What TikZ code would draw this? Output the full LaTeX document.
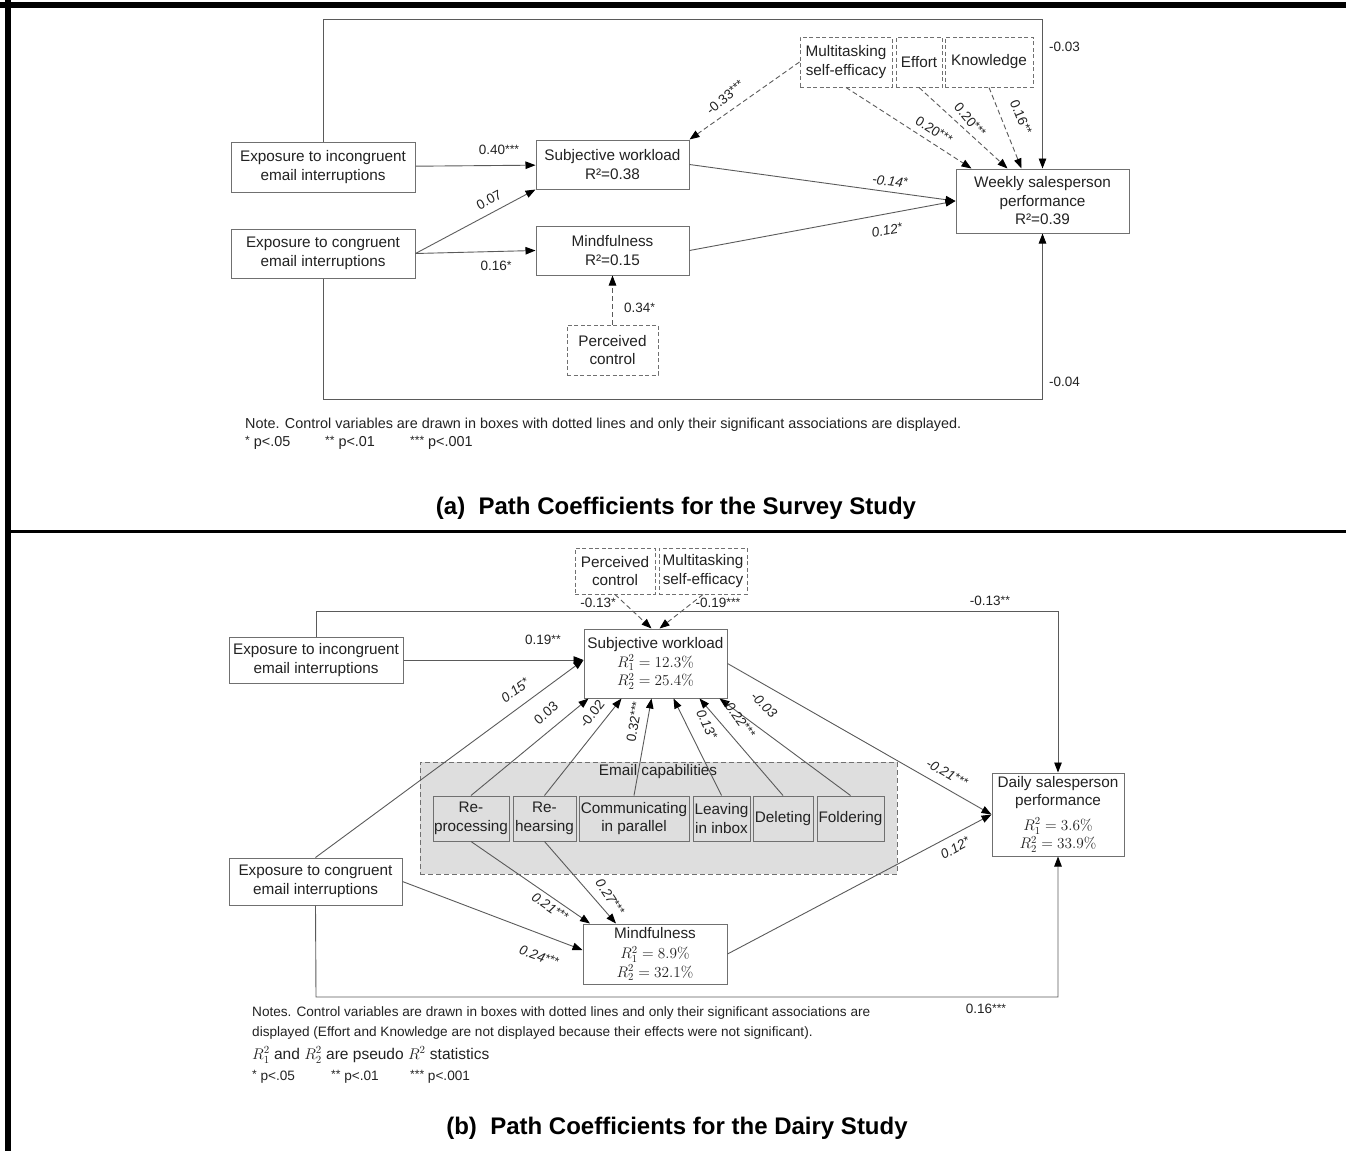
\documentclass[tikz,border=0pt]{standalone}
\usepackage{fix-cm}
\usepackage[no-math]{fontspec}
\setmainfont{Liberation Sans}
\usepackage{amsmath}
\usepackage{xcolor}
\usetikzlibrary{positioning,arrows.meta}

\definecolor{lineg}{HTML}{5A5A5A}
\definecolor{boxg}{HTML}{707070}
\definecolor{txt}{HTML}{222222}
\definecolor{capfill}{HTML}{DEDEDE}

\newcommand{\boxfont}{\fontsize{15.3}{18.5}\selectfont}
\newcommand{\coeffont}{\fontsize{13.5}{16}\selectfont}
\newcommand{\notefont}{\fontsize{14.4}{17}\selectfont}
\newcommand{\titlefont}{\fontsize{24}{28}\selectfont\bfseries}
\newcommand{\sig}[1]{\raisebox{1.8pt}{\fontsize{12}{12}\selectfont#1}}

\begin{document}
\begin{tikzpicture}[
            x=1pt, y=-1pt,
            var/.style={draw=boxg, line width=1pt, fill=white, text=txt, align=center, font=\boxfont, inner sep=1pt},
            ctrl/.style={var, dash pattern=on 4pt off 2.5pt},
            capbox/.style={var, fill=capfill, minimum height=45pt},
            link/.style={draw=lineg, line width=0.9pt, -{Triangle[length=10pt,width=7.5pt,color=black]}},
            dlink/.style={link, dash pattern=on 5pt off 3pt},
            coef/.style={text=txt, font=\coeffont, inner sep=1pt},
            coefit/.style={coef, font=\coeffont\itshape},
            note/.style={anchor=west, text=txt, font=\notefont, inner sep=0pt},
            bnote/.style={note, font=\fontsize{13.6}{16}\selectfont}
        ]
            \useasboundingbox (0,0) rectangle (1346,1151);
            % Frame
            \draw[line width=6pt] (0,5) -- (1346,5);
            \draw[line width=6pt] (8,0) -- (8,1151);
            \draw[line width=3.5pt] (8,531.5) -- (1346,531.5);

            % ---------------- (a) survey study ----------------
            % Variables
            \node[var, minimum width=184pt, minimum height=50pt] (inc1) at (323,167) {Exposure to incongruent\\email interruptions};
            \node[var, minimum width=184pt, minimum height=49pt] (con1) at (323,253.5) {Exposure to congruent\\email interruptions};
            \node[var, minimum width=153pt, minimum height=49pt] (sw1) at (612.5,164.5) {Subjective workload\\R²=0.38};
            \node[var, minimum width=153pt, minimum height=49pt] (mind1) at (612.5,250.5) {Mindfulness\\R²=0.15};
            \node[var, minimum width=173pt, minimum height=64pt] (perf1) at (1042.5,201) {Weekly salesperson\\performance\\R²=0.39};
            % Controls
            \node[ctrl, minimum width=92pt, minimum height=50pt] (mts1) at (846,62) {Multitasking\\self-efficacy};
            \node[ctrl, minimum width=46pt, minimum height=50pt] (eff1) at (919,62) {Effort};
            \node[ctrl, minimum width=88pt, minimum height=50pt] (know1) at (989,62) {Knowledge};
            \node[ctrl, minimum width=91pt, minimum height=50pt] (pc1) at (612.5,350) {Perceived\\control};
            % Paths
            \coordinate (fbtop1) at (323,19);
            \coordinate (fbbot1) at (323,399);
            \draw[link] (inc1.north) -- (fbtop1) -| (perf1.north);
            \draw[link] (con1.south) -- (fbbot1) -| (perf1.south);
            \draw[link] (inc1) -- (sw1);
            \draw[link] (con1.east) -- (sw1.south west);
            \draw[link] (con1.east) -- (mind1.west);
            \draw[link] (sw1.east) -- (perf1.west);
            \draw[link] (mind1.east) -- (perf1.west);
            \draw[dlink] (mts1.west) -- (sw1.north east);
            \draw[dlink] (mts1.south) -- ([xshift=-71pt]perf1.north);
            \draw[dlink] (eff1.south) -- ([xshift=-35pt]perf1.north);
            \draw[dlink] (know1.south) -- ([xshift=-21pt]perf1.north);
            \draw[dlink] (pc1) -- (mind1);
            % Coefficients
            \node[coef] (c40) at (499,150) {0.40\sig{***}};
            \node[coef, rotate=28] (c07) at (489,200) {0.07};
            \node[coef] (c16) at (496,266) {0.16\sig{*}};
            \node[coef, rotate=40] (c33) at (725,97) {-0.33\sig{***}};
            \node[coef, rotate=-33] (c20a) at (934,130) {0.20\sig{***}};
            \node[coef, rotate=-50] (c20b) at (970,120) {0.20\sig{***}};
            \node[coef, rotate=-68] (c16b) at (1021,117) {0.16\sig{**}};
            \node[coefit, rotate=-8] (c14) at (890,181) {-0.14\sig{*}};
            \node[coefit, rotate=10] (c12) at (887,230) {0.12\sig{*}};
            \node[coef, anchor=west] (c34) at (623,308) {0.34\sig{*}};
            \node[coef, anchor=west] (c03) at (1048,47) {-0.03};
            \node[coef, anchor=west] (c04) at (1048,382) {-0.04};
            % Notes
            \node[note] (note1) at (245,425) {Note. Control variables are drawn in boxes with dotted lines and only their significant associations are displayed.};
            \node[note] (pa1) at (245,443) {\sig{*} p<.05};
            \node[note] (pa2) at (325,443) {\sig{**} p<.01};
            \node[note] (pa3) at (410,443) {\sig{***} p<.001};
            \node[font=\titlefont] (title1) at (676,508) {(a)\ \ Path Coefficients for the Survey Study};

            % ---------------- (b) diary study ----------------
            % Group
            \node[draw=boxg, fill=capfill, line width=1pt, dash pattern=on 5pt off 3pt, minimum width=477pt, minimum height=112pt] (caps) at (658.5,818) {};
            \node[text=txt, font=\boxfont, inner sep=0pt] (capsl) at (658,772) {Email capabilities};
            % Variables
            \node[ctrl, minimum width=80pt, minimum height=46pt] (pc2) at (615,571) {Perceived\\control};
            \node[ctrl, minimum width=88pt, minimum height=46pt] (mts2) at (703,571) {Multitasking\\self-efficacy};
            \node[var, minimum width=174pt, minimum height=46pt] (inc2) at (316,660) {Exposure to incongruent\\email interruptions};
            \node[var, minimum width=173pt, minimum height=47pt] (con2) at (315.5,881.5) {Exposure to congruent\\email interruptions};
            \node[var, minimum width=143pt, minimum height=69pt] (sw2) at (655.5,663.5) {Subjective workload\\$R_1^2 = 12.3\%$\\$R_2^2 = 25.4\%$};
            \node[var, minimum width=144pt, minimum height=60pt] (mind2) at (655,954) {Mindfulness\\[2pt]$R_1^2 = 8.9\%$\\$R_2^2 = 32.1\%$};
            \node[var, minimum width=132pt, minimum height=83pt] (perf2) at (1058,814.5) {Daily salesperson\\performance\\[6pt]$R_1^2 = 3.6\%$\\$R_2^2 = 33.9\%$};
            \node[capbox, minimum width=76pt] (rep) at (471,818.5) {Re-\\processing};
            \node[capbox, minimum width=63pt] (reh) at (544.5,818.5) {Re-\\hearsing};
            \node[capbox, minimum width=110pt] (com) at (634,818.5) {Communicating\\in parallel};
            \node[capbox, minimum width=57pt] (lea) at (721.5,818.5) {Leaving\\in inbox};
            \node[capbox, minimum width=60pt] (del) at (783,818.5) {Deleting};
            \node[capbox, minimum width=67pt] (fol) at (850.5,818.5) {Foldering};
            % Paths
            \coordinate (fbtop2) at (316,611);
            \coordinate (fbbot2) at (316,997);
            \draw[link] (inc2.north) -- (fbtop2) -| (perf2.north);
            \draw[link] (con2.south) -- (fbbot2) -| (perf2.south);
            \draw[dlink] (pc2.south) -- ([xshift=-4pt]sw2.north);
            \draw[dlink] (mts2.south) -- ([xshift=4pt]sw2.north);
            \draw[link] (inc2.east) -- ([yshift=3.5pt]sw2.west);
            \draw[link] (con2.north) -- ([yshift=3.5pt]sw2.west);
            \draw[link] (rep.north) -- ([xshift=-67pt]sw2.south);
            \draw[link] (reh.north) -- ([xshift=-34pt]sw2.south);
            \draw[link] (com.north) -- ([xshift=-4pt]sw2.south);
            \draw[link] (lea.north) -- ([xshift=18pt]sw2.south);
            \draw[link] (del.north) -- ([xshift=44pt]sw2.south);
            \draw[link] (fol.north) -- ([xshift=64pt]sw2.south);
            \draw[link] (rep.south) -- ([xshift=-65pt]mind2.north);
            \draw[link] (reh.south) -- ([xshift=-39pt]mind2.north);
            \draw[link] (con2.east) -- ([yshift=4pt]mind2.west);
            \draw[link] (sw2.east) -- (perf2.west);
            \draw[link] (mind2.east) -- (perf2.west);
            % Coefficients
            \node[coef] (c13a) at (598,603) {-0.13\sig{*}};
            \node[coef] (c19a) at (718,603) {-0.19\sig{***}};
            \node[coef] (c13b) at (990,601) {-0.13\sig{**}};
            \node[coef] (c19b) at (543,640) {0.19\sig{**}};
            \node[coefit, rotate=36] (c15) at (515,690) {0.15\sig{*}};
            \node[coef, rotate=40] (c03b) at (546,713) {0.03};
            \node[coef, rotate=52] (c02) at (592,714) {-0.02};
            \node[coef, rotate=80] (c32) at (634,722) {0.32\sig{***}};
            \node[coefit, rotate=-65] (c13c) at (707,724) {0.13\sig{*}};
            \node[coefit, rotate=-55] (c22) at (739,718) {-0.22\sig{***}};
            \node[coefit, rotate=-45] (c03c) at (764,705) {-0.03};
            \node[coefit, rotate=-30] (c21a) at (947,773) {-0.21\sig{***}};
            \node[coefit, rotate=28] (c12b) at (955,848) {0.12\sig{*}};
            \node[coefit, rotate=-35] (c21b) at (550,907) {0.21\sig{***}};
            \node[coefit, rotate=-57] (c27) at (610,897) {0.27\sig{***}};
            \node[coefit, rotate=-20] (c24) at (539,956) {0.24\sig{***}};
            \node[coef] (c16c) at (986,1009) {0.16\sig{***}};
            % Notes
            \node[bnote] (note2) at (252,1013) {Notes. Control variables are drawn in boxes with dotted lines and only their significant associations are};
            \node[bnote] (note3) at (252,1033) {displayed (Effort and Knowledge are not displayed because their effects were not significant).};
            \node[note, font=\fontsize{15.5}{17}\selectfont] (note4) at (252,1055) {$R_1^2$ and $R_2^2$ are pseudo $R^2$ statistics};
            \node[bnote] (pb1) at (252,1077) {\sig{*} p<.05};
            \node[bnote] (pb2) at (331,1077) {\sig{**} p<.01};
            \node[bnote] (pb3) at (410,1077) {\sig{***} p<.001};
            \node[font=\titlefont] (title2) at (677,1128) {(b)\ \ Path Coefficients for the Dairy Study};
        \end{tikzpicture}
\end{document}
